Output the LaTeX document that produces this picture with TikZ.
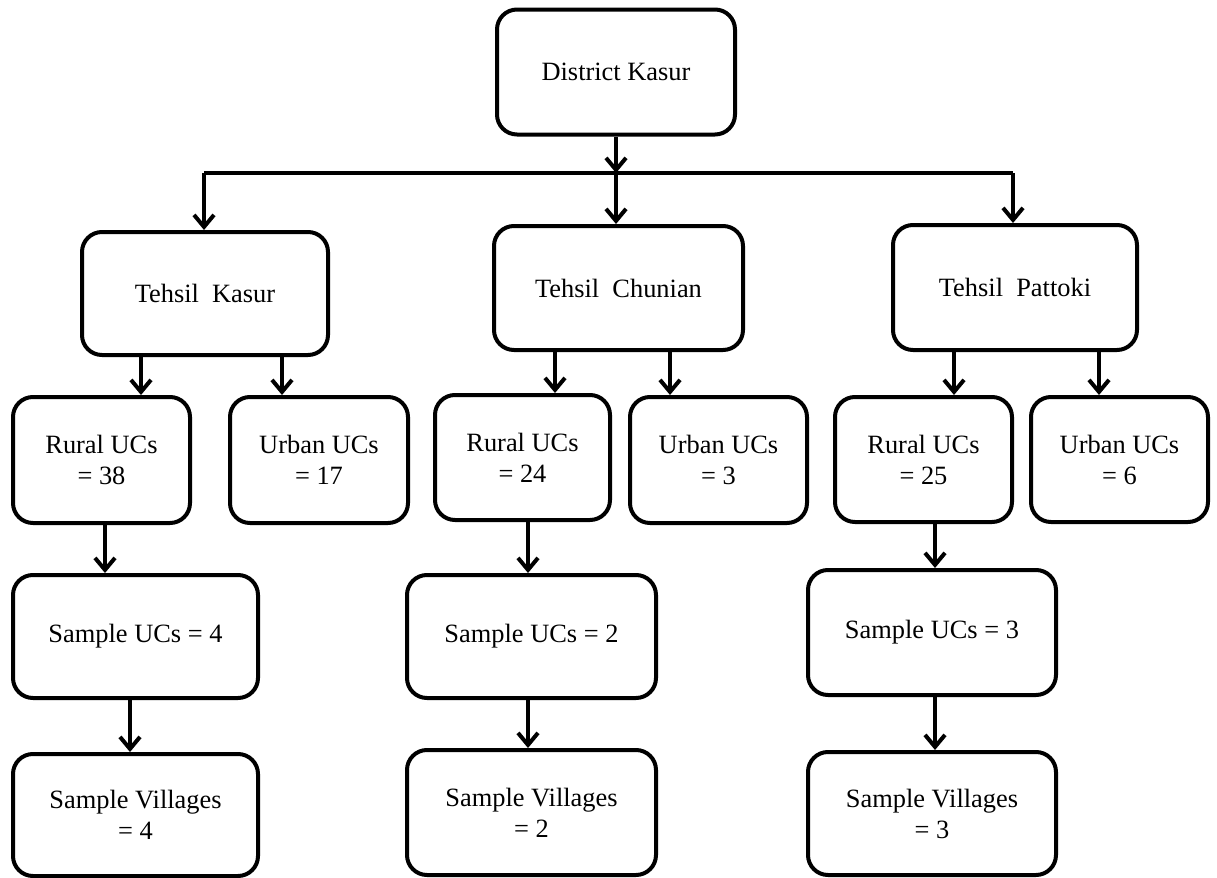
\documentclass[tikz,border=0pt]{standalone}
\usepackage{fontspec}
\setmainfont{Liberation Serif}
\usetikzlibrary{arrows.meta}
\begin{document}
\begin{tikzpicture}[x=0.5pt,y=-0.5pt,
  box/.style={draw, line width=2pt, rounded corners=10pt, align=center, inner sep=2pt,
    font=\fontsize{13.2}{15.5}\selectfont},
  arr/.style={line width=2pt, -{Straight Barb[length=6pt,width=10pt]}},
  bar/.style={line width=2pt}]
\useasboundingbox (0,0) rectangle (1217,878);
\node[box, minimum width=119pt, minimum height=62.5pt] (dk) at (616,72) {District Kasur};
\node[box, minimum width=123pt, minimum height=61.5pt] (tk) at (205,293.5) {Tehsil\ \ Kasur};
\node[box, minimum width=124.5pt, minimum height=62pt] (tc) at (618.5,288) {Tehsil\ \ Chunian};
\node[box, minimum width=122pt, minimum height=62.5pt] (tp) at (1015,287.5) {Tehsil\ \ Pattoki};
\node[box, minimum width=88.5pt, minimum height=63pt] (r38) at (101.5,460) {Rural UCs\\= 38};
\node[box, minimum width=89pt, minimum height=63pt] (u17) at (319,460) {Urban UCs\\= 17};
\node[box, minimum width=87.5pt, minimum height=62.5pt] (r24) at (522.5,457.5) {Rural UCs\\= 24};
\node[box, minimum width=88.5pt, minimum height=63pt] (u3) at (718.5,460) {Urban UCs\\= 3};
\node[box, minimum width=88.5pt, minimum height=62.5pt] (r25) at (923.5,459.5) {Rural UCs\\= 25};
\node[box, minimum width=88.5pt, minimum height=62.5pt] (u6) at (1119.5,459.5) {Urban UCs\\= 6};
\node[box, minimum width=122.5pt, minimum height=61.5pt] (s4) at (135.5,636.5) {Sample UCs = 4};
\node[box, minimum width=124.5pt, minimum height=61.5pt] (s2) at (531.5,636.5) {Sample UCs = 2};
\node[box, minimum width=124pt, minimum height=62.5pt] (s3) at (932,632.5) {Sample UCs = 3};
\node[box, minimum width=122.5pt, minimum height=61pt] (v4) at (135.5,815) {Sample Villages\\= 4};
\node[box, minimum width=124.5pt, minimum height=62.5pt] (v2) at (531.5,812.5) {Sample Villages\\= 2};
\node[box, minimum width=124pt, minimum height=61.5pt] (v3) at (932,813.5) {Sample Villages\\= 3};
\coordinate (barL) at (204,173);
\coordinate (barM) at (616,173);
\coordinate (barR) at (1013,173);
\draw[bar] (barL) -- (barR);
\draw[arr] (dk.south) -- (dk.south |- barM);
\draw[arr] (barL) -- (tk.north -| barL);
\draw[arr] (barM) -- (tc.north -| barM);
\draw[arr] (barR) -- (tp.north -| barR);
\draw[arr] (tk.south -| 141,0) -- (r38.north -| 141,0);
\draw[arr] (tk.south -| 282,0) -- (u17.north -| 282,0);
\draw[arr] (tc.south -| 555,0) -- (r24.north -| 555,0);
\draw[arr] (tc.south -| 670,0) -- (u3.north -| 670,0);
\draw[arr] (tp.south -| 954,0) -- (r25.north -| 954,0);
\draw[arr] (tp.south -| 1099,0) -- (u6.north -| 1099,0);
\draw[arr] (r38.south -| 105,0) -- (s4.north -| 105,0);
\draw[arr] (r24.south -| 528,0) -- (s2.north -| 528,0);
\draw[arr] (r25.south -| 935,0) -- (s3.north -| 935,0);
\draw[arr] (s4.south -| 130,0) -- (v4.north -| 130,0);
\draw[arr] (s2.south -| 528,0) -- (v2.north -| 528,0);
\draw[arr] (s3.south -| 935,0) -- (v3.north -| 935,0);
\end{tikzpicture}
\end{document}
